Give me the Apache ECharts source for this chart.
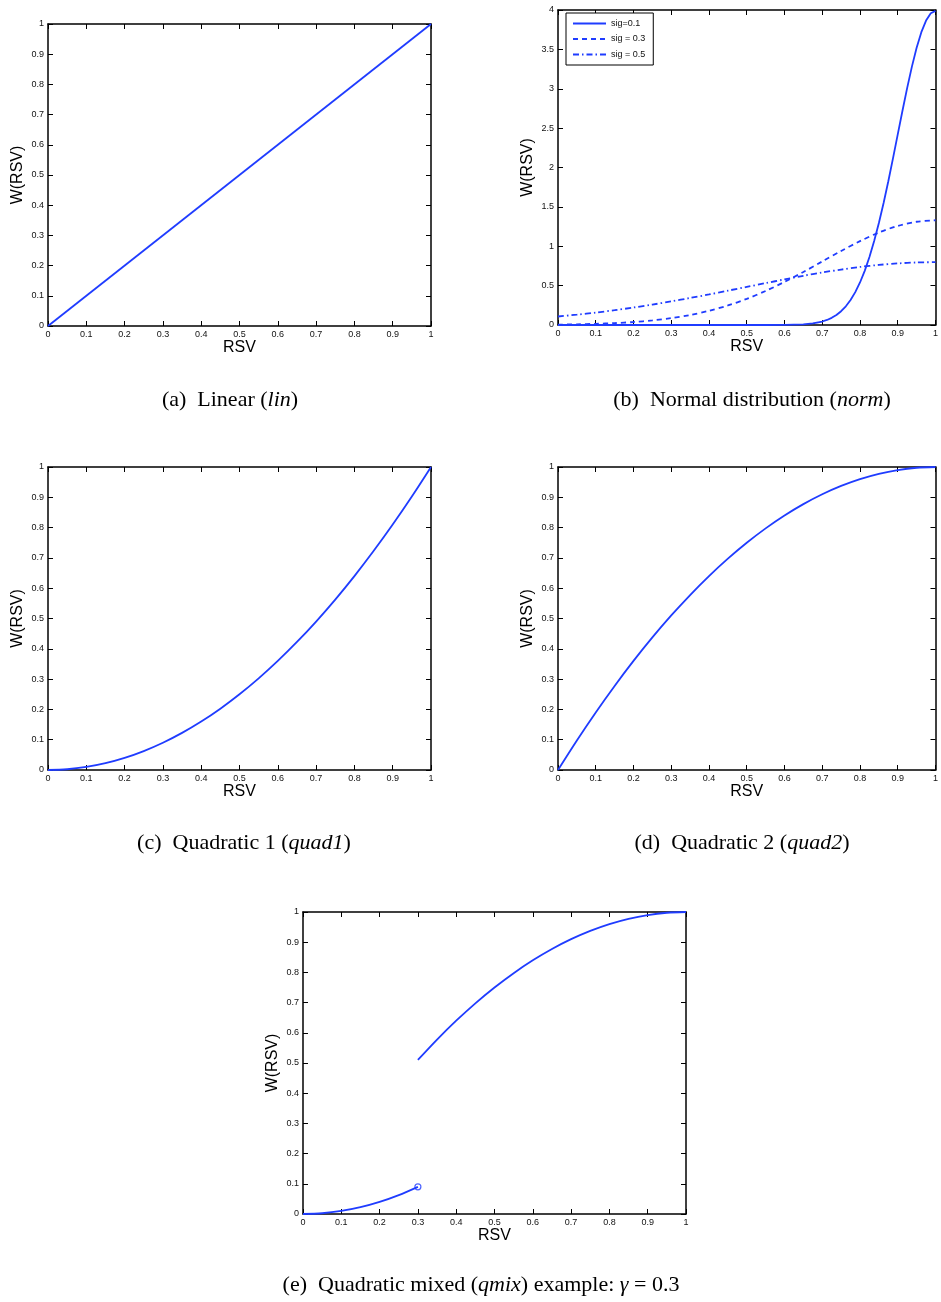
<!DOCTYPE html>
<html>
<head>
<meta charset="utf-8">
<script src="https://cdn.jsdelivr.net/npm/echarts@6/dist/echarts.min.js"></script>
<style>
html,body{margin:0;padding:0;background:#fff;}
#c{width:941px;height:1302px;}
</style>
</head>
<body>
<div id="c"></div>
<script>
// ---- data ----
const xs = [0,0.05,0.1,0.15,0.2,0.25,0.3,0.35,0.4,0.45,0.5,0.55,0.6,0.65,0.7,0.75,0.8,0.85,0.9,0.95,1];
const linX = [0, 1];
const linY = [0, 1];
const quad1Y = [0,0.0025,0.01,0.0225,0.04,0.0625,0.09,0.1225,0.16,0.2025,0.25,0.3025,0.36,0.4225,0.49,0.5625,0.64,0.7225,0.81,0.9025,1];
const quad2Y = [0,0.0975,0.19,0.2775,0.36,0.4375,0.51,0.5775,0.64,0.6975,0.75,0.7975,0.84,0.8775,0.91,0.9375,0.96,0.9775,0.99,0.9975,1];
const sig01X = [0,0.1,0.2,0.3,0.4,0.5,0.55,0.6,0.65,0.675,0.7,0.7125,0.725,0.7375,0.75,0.7625,0.775,0.7875,0.8,0.8125,0.825,0.8375,0.85,0.8625,0.875,0.8875,0.9,0.9125,0.925,0.9375,0.95,0.9625,0.975,0.9875,1];
const sig01Y = [0,0,0,0,0,0,0.0002,0.0013,0.0087,0.0203,0.0443,0.0640,0.0909,0.1272,0.175,0.2378,0.317,0.4172,0.540,0.6877,0.863,1.0656,1.295,1.550,1.826,2.119,2.420,2.720,3.011,3.281,3.521,3.718,3.866,3.958,3.989];
const sig03Y = [0.005,0.009,0.015,0.024,0.038,0.058,0.087,0.127,0.180,0.248,0.332,0.432,0.547,0.673,0.807,0.940,1.065,1.174,1.258,1.311,1.330];
const sig05Y = [0.108,0.131,0.158,0.188,0.222,0.259,0.300,0.343,0.388,0.436,0.484,0.532,0.579,0.625,0.667,0.704,0.737,0.763,0.782,0.794,0.798];
const qmixLowX = [0,0.05,0.1,0.15,0.2,0.25,0.3];
const qmixLowY = [0,0.0025,0.01,0.0225,0.04,0.0625,0.09];
const qmixHighX = [0.3,0.35,0.4,0.45,0.5,0.55,0.6,0.65,0.7,0.75,0.8,0.85,0.9,0.95,1];
const qmixHighY = [0.51,0.5775,0.64,0.6975,0.75,0.7975,0.84,0.8775,0.91,0.9375,0.96,0.9775,0.99,0.9975,1];
const openPoint = [[0.3, 0.09]];
const legendNames = ['sig=0.1', 'sig = 0.3', 'sig = 0.5'];
const captions = [
  {t: '(a)  Linear ({i|lin})', x: 230, y: 400},
  {t: '(b)  Normal distribution ({i|norm})', x: 752, y: 400},
  {t: '(c)  Quadratic 1 ({i|quad1})', x: 244, y: 843},
  {t: '(d)  Quadratic 2 ({i|quad2})', x: 742, y: 843},
  {t: '(e)  Quadratic mixed ({i|qmix}) example: {i|γ} = 0.3', x: 481, y: 1285}
];

// ---- layout ----
const grids = [
  {left: 48, top: 24, width: 383, height: 302, ymax: 1, yint: 0.1},
  {left: 558, top: 10, width: 383, height: 315, ymax: 4, yint: 0.5},
  {left: 48, top: 467, width: 383, height: 303, ymax: 1, yint: 0.1},
  {left: 558, top: 467, width: 383, height: 303, ymax: 1, yint: 0.1},
  {left: 303, top: 912, width: 383, height: 302, ymax: 1, yint: 0.1}
];
const BLUE = '#1f3cff';
const labelStyle = {fontFamily: 'Liberation Sans, Arial, sans-serif', fontSize: 9, color: '#111'};
const xAxes = [], yAxes = [];
grids.forEach((g, i) => {
  const common = {
    min: 0, splitLine: {show: false},
    axisLine: {show: true, onZero: false, lineStyle: {color: '#000', width: 1.5}},
    axisTick: {show: true, inside: true, length: 5, lineStyle: {color: '#000', width: 1}},
  };
  xAxes.push(Object.assign({}, common, {
    gridIndex: i, type: 'value', position: 'bottom', max: 1, interval: 0.1,
    axisLabel: Object.assign({margin: 4}, labelStyle),
    name: 'RSV', nameLocation: 'middle', nameGap: 14,
    nameTextStyle: {fontFamily: 'Liberation Sans, Arial, sans-serif', fontSize: 16, color: '#000'}
  }));
  xAxes.push(Object.assign({}, common, {
    gridIndex: i, type: 'value', position: 'top', max: 1, interval: 0.1,
    axisLabel: {show: false}
  }));
  yAxes.push(Object.assign({}, common, {
    gridIndex: i, type: 'value', position: 'left', max: g.ymax, interval: g.yint,
    axisLabel: Object.assign({margin: 4}, labelStyle),
    name: 'W(RSV)', nameLocation: 'middle', nameGap: 22, nameRotate: 90,
    nameTextStyle: {fontFamily: 'Liberation Sans, Arial, sans-serif', fontSize: 16, color: '#000'}
  }));
  yAxes.push(Object.assign({}, common, {
    gridIndex: i, type: 'value', position: 'right', max: g.ymax, interval: g.yint,
    axisLabel: {show: false}
  }));
});

function pairs(x, y) { return x.map((v, k) => [v, y[k]]); }
function lineSeries(name, idx, data, type, smooth) {
  return {
    name: name, type: 'line', xAxisIndex: idx * 2, yAxisIndex: idx * 2,
    data: data, symbol: 'none', showSymbol: false, smooth: smooth, silent: true,
    lineStyle: {color: BLUE, width: 1.8, type: type || 'solid'},
    itemStyle: {color: BLUE}
  };
}

const series = [
  lineSeries('lin', 0, pairs(linX, linY), 'solid', false),
  lineSeries(legendNames[0], 1, pairs(sig01X, sig01Y), 'solid', false),
  lineSeries(legendNames[1], 1, pairs(xs, sig03Y), [5, 4], 0.3),
  lineSeries(legendNames[2], 1, pairs(xs, sig05Y), [6, 3, 1.5, 3], 0.3),
  lineSeries('quad1', 2, pairs(xs, quad1Y), 'solid', 0.3),
  lineSeries('quad2', 3, pairs(xs, quad2Y), 'solid', 0.3),
  lineSeries('qmixLow', 4, pairs(qmixLowX, qmixLowY), 'solid', 0.3),
  lineSeries('qmixHigh', 4, pairs(qmixHighX, qmixHighY), 'solid', 0.3),
  {
    name: 'open', type: 'scatter', xAxisIndex: 8, yAxisIndex: 8, data: openPoint,
    symbol: 'circle', symbolSize: 6, silent: true,
    itemStyle: {color: '#fff', borderColor: BLUE, borderWidth: 1.2}
  }
];

const serif = 'Liberation Serif, Times New Roman, serif';
const graphic = captions.map(c => ({
  type: 'text', x: c.x, y: c.y,
  style: {
    text: c.t, fill: '#000', font: '22px ' + serif,
    textAlign: 'center', textVerticalAlign: 'middle',
    rich: {i: {fontStyle: 'italic', fontFamily: serif, fontSize: 22}}
  }
}));

const chart = echarts.init(document.getElementById('c'), null, {renderer: 'canvas'});
chart.setOption({
  animation: false,
  backgroundColor: '#fff',
  grid: grids.map(g => ({left: g.left, top: g.top, width: g.width, height: g.height, containLabel: false})),
  xAxis: xAxes,
  yAxis: yAxes,
  legend: {
    data: legendNames, orient: 'vertical', left: 566, top: 13,
    itemWidth: 33, itemHeight: 10, itemGap: 6.5,
    padding: [6, 8, 6, 6], borderColor: '#000', borderWidth: 1, backgroundColor: '#fff',
    itemStyle: {opacity: 0},
    textStyle: {fontFamily: 'Liberation Sans, Arial, sans-serif', fontSize: 9, color: '#111'},
    selectedMode: false
  },
  series: series,
  graphic: graphic
});
</script>
</body>
</html>
